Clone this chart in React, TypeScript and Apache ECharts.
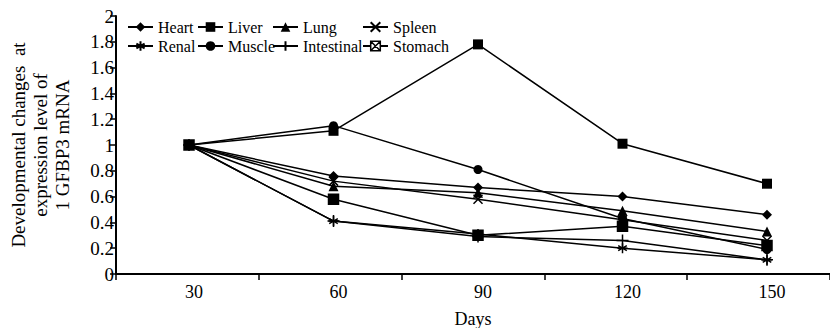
import React, { useEffect, useRef } from 'react';
import * as echarts from 'echarts';

const days = [30, 60, 90, 120, 150];
const dayLabels = ['30', '60', '90', '120', '150'];
const yTicks = [0, 0.2, 0.4, 0.6, 0.8, 1, 1.2, 1.4, 1.6, 1.8, 2];

const heart = [1, 0.76, 0.67, 0.6, 0.46];
const liver = [1, 1.11, 1.78, 1.01, 0.7];
const lung = [1, 0.68, 0.63, 0.49, 0.33];
const spleen = [1, 0.72, 0.58, 0.42, 0.26];
const renal = [1, 0.41, 0.31, 0.2, 0.11];
const muscle = [1, 1.15, 0.81, 0.43, 0.19];
const intestinal = [1, 0.41, 0.29, 0.26, 0.11];
const stomach = [1, 0.58, 0.3, 0.37, 0.22];

const FONT = '"Liberation Serif", "Times New Roman", serif';

const SYM_X = 'path://M0,0L10,10M10,0L0,10';
const SYM_AST = 'path://M5,0L5,10M0.7,2.5L9.3,7.5M0.7,7.5L9.3,2.5M0,5L10,5';
const SYM_PLUS = 'path://M5,0L5,10M0,5L10,5';
const SYM_BOXX = 'path://M0,0L10,0L10,10L0,10ZM0,0L10,10M10,0L0,10';

const seriesDefs = [
  { name: 'Heart', data: heart, symbol: 'diamond', size: 10, stroke: false },
  { name: 'Liver', data: liver, symbol: 'rect', size: 10, stroke: false },
  { name: 'Lung', data: lung, symbol: 'triangle', size: 10, stroke: false },
  { name: 'Spleen', data: spleen, symbol: SYM_X, size: 9, stroke: true },
  { name: 'Renal', data: renal, symbol: SYM_AST, size: 10, stroke: true },
  { name: 'Muscle', data: muscle, symbol: 'circle', size: 9, stroke: false },
  { name: 'Intestinal', data: intestinal, symbol: SYM_PLUS, size: 12, stroke: true },
  { name: 'Stomach', data: stomach, symbol: SYM_BOXX, size: 10, stroke: true },
];

const legendCols = [
  { left: 122, items: ['Heart', 'Renal'] },
  { left: 192, items: ['Liver', 'Muscle'] },
  { left: 267, items: ['Lung', 'Intestinal'] },
  { left: 357, items: ['Spleen', 'Stomach'] },
];

export default function App() {
  const ref = useRef<HTMLDivElement>(null);
  useEffect(() => {
    if (!ref.current) return;
    const chart = echarts.init(ref.current, null, { renderer: 'svg' });
    const option: any = {
      animation: false,
      backgroundColor: '#fff',
      textStyle: { fontFamily: FONT, color: '#000' },
      grid: { left: 116, right: 0, top: 16, bottom: 54, outerBoundsMode: 'none', containLabel: false },
      legend: legendCols.map((c) => ({
        orient: 'vertical',
        left: c.left,
        top: 14,
        itemWidth: 25,
        itemHeight: 12,
        itemGap: 3,
        textStyle: { fontFamily: FONT, fontSize: 16, color: '#000' },
        data: c.items.map((n) =>
          n === 'Stomach' ? { name: n, itemStyle: { color: '#fff', borderColor: '#000', borderWidth: 1.5 } } : { name: n }
        ),
      })),
      xAxis: [
        {
          type: 'value',
          min: 14.84,
          max: 163.08,
          axisLine: { show: false },
          axisTick: { show: false },
          splitLine: { show: false },
          axisLabel: {
            customValues: days,
            formatter: (v: number) => dayLabels[days.indexOf(v)] ?? '',
            fontFamily: FONT,
            fontSize: 18,
            color: '#000',
            margin: 9,
            padding: [0, 0, 0, 10],
          },
          name: 'Days',
          nameLocation: 'middle',
          nameGap: 36,
          nameTextStyle: { fontFamily: FONT, fontSize: 18, color: '#000' },
        },
        {
          type: 'category',
          data: dayLabels,
          boundaryGap: true,
          position: 'bottom',
          axisLine: { show: true, lineStyle: { color: '#000', width: 2 } },
          axisTick: { show: true, length: 6, lineStyle: { color: '#000', width: 1.5 } },
          axisLabel: { show: false },
          splitLine: { show: false },
        },
      ],
      yAxis: {
        type: 'value',
        min: yTicks[0],
        max: yTicks[yTicks.length - 1],
        interval: 0.2,
        axisLine: { show: true, lineStyle: { color: '#000', width: 2 } },
        axisTick: { show: true, length: 6, lineStyle: { color: '#000', width: 1.5 } },
        splitLine: { show: false },
        axisLabel: { fontFamily: FONT, fontSize: 19, color: '#000', margin: 2 },
        name: 'Developmental changes  at\nexpression level of\n1 GFBP3 mRNA',
        nameLocation: 'middle',
        nameRotate: 90,
        nameGap: 43,
        nameTextStyle: { fontFamily: FONT, fontSize: 19, color: '#000', lineHeight: 22, align: 'center' },
      },
      series: seriesDefs.map((s) => ({
        name: s.name,
        type: 'line',
        xAxisIndex: 0,
        data: s.data.map((v, i) => [days[i], v]),
        symbol: s.symbol,
        symbolSize: s.size,
        showSymbol: true,
        lineStyle: { color: '#000', width: 1.5 },
        itemStyle: s.stroke
          ? { color: '#000', borderColor: '#000', borderWidth: 1.5 }
          : { color: '#000', borderColor: '#000', borderWidth: 0 },
        emphasis: { disabled: true },
      })),
    };
    chart.setOption(option);
    return () => chart.dispose();
  }, []);
  return <div ref={ref} style={{ position: 'absolute', left: 0, top: 0, width: 830, height: 328 }} />;
}
